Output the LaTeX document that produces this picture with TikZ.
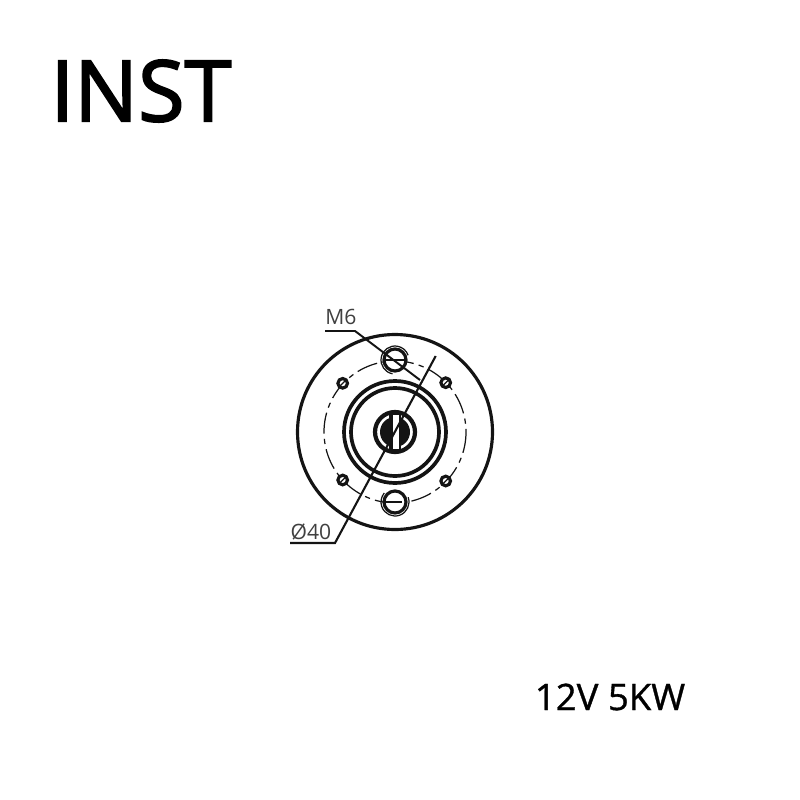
\documentclass[tikz,border=0pt]{standalone}
\usepackage{fontspec}
\setmainfont{Open Sans}
\newfontfamily\capfont[FakeBold=0.9]{Open Sans}
\newfontfamily\titlefont[FakeBold=2.2]{Open Sans}
\definecolor{MyInk}{rgb}{0.08,0.08,0.08}
\begin{document}
\begin{tikzpicture}[x=0.01cm,y=-0.01cm]
       \tikzstyle{every node}=[text=MyInk]
       \tikzstyle{ring}=[draw=MyInk, line width=0.9pt]
       \tikzstyle{thin ring}=[draw=MyInk, line width=0.35pt]
       \tikzstyle{leader}=[draw=MyInk, line width=0.55pt]
       \tikzstyle{dim}=[font=\fontsize{6}{7}\selectfont, text=black!75]
        \useasboundingbox (0, 0) rectangle (800, 800);
        \coordinate (centre) at (395, 432);
        \coordinate (topbolt) at (395, 360);
        \coordinate (lowbolt) at (395, 502);
        % flange and bolt circle
        \draw[ring] (centre) circle (97.5);
        \draw[thin ring, dash pattern=on 6pt off 1.5pt on 1.5pt off 1.5pt] (centre) circle (71);
        % threaded holes
        \foreach \px/\py in {342.7/383.3, 445.7/382.7, 342.7/480, 445.7/481} {
          \draw[ring, fill=white] (\px, \py) circle (4.8);
          \draw[thin ring] (\px-2.5, \py+2.5) -- (\px+2.5, \py-2.5);
        }
        % large bolts
        \foreach \pos/\ang in {topbolt/100, lowbolt/-20} {
          \draw[ring, fill=white] (\pos) circle (11);
          \draw[thin ring] (\pos) ++(\ang:14) arc (\ang:\ang+240:14);
        }
        \draw[thin ring] (384, 360) -- (406, 360);
        \draw[thin ring] (384, 502) -- (402, 502);
        % centre rings
        \draw[ring, line width=1.05pt] (centre) circle (51);
        \draw[ring, line width=1.05pt] (centre) circle (44);
        % shaft
        \draw[ring, line width=1.2pt, fill=white] (centre) circle (20);
        \fill[MyInk] (centre) circle (15);
        \fill[MyInk] (389, 412) rectangle (401, 452);
        \fill[white] (392.5, 415) rectangle (398.5, 449);
        % leaders
        \node (m6 label) at (341, 317) [dim] {M6};
        \node (dia label) at (311, 532) [dim] {Ø40};
        \coordinate (m6 start) at (325, 331);
        \coordinate (m6 knee) at (355, 331);
        \coordinate (m6 end) at (420, 380);
        \coordinate (dia start) at (290, 543);
        \coordinate (dia knee) at (335, 543);
        \coordinate (dia end) at (435.7, 356);
        \draw[leader] (m6 start) -- (m6 knee) -- (m6 end);
        \draw[leader, line width=0.6pt] (dia start) -- (dia knee) -- (dia end);
        % captions
        \node (title) at (141, 91) [font=\titlefont\fontsize{24.1}{28}\selectfont, text=black] {INST};
        \node (rating) at (610, 697) [font=\capfont\fontsize{10.4}{13}\selectfont, text=black] {12V 5KW};
      \end{tikzpicture}
\end{document}
